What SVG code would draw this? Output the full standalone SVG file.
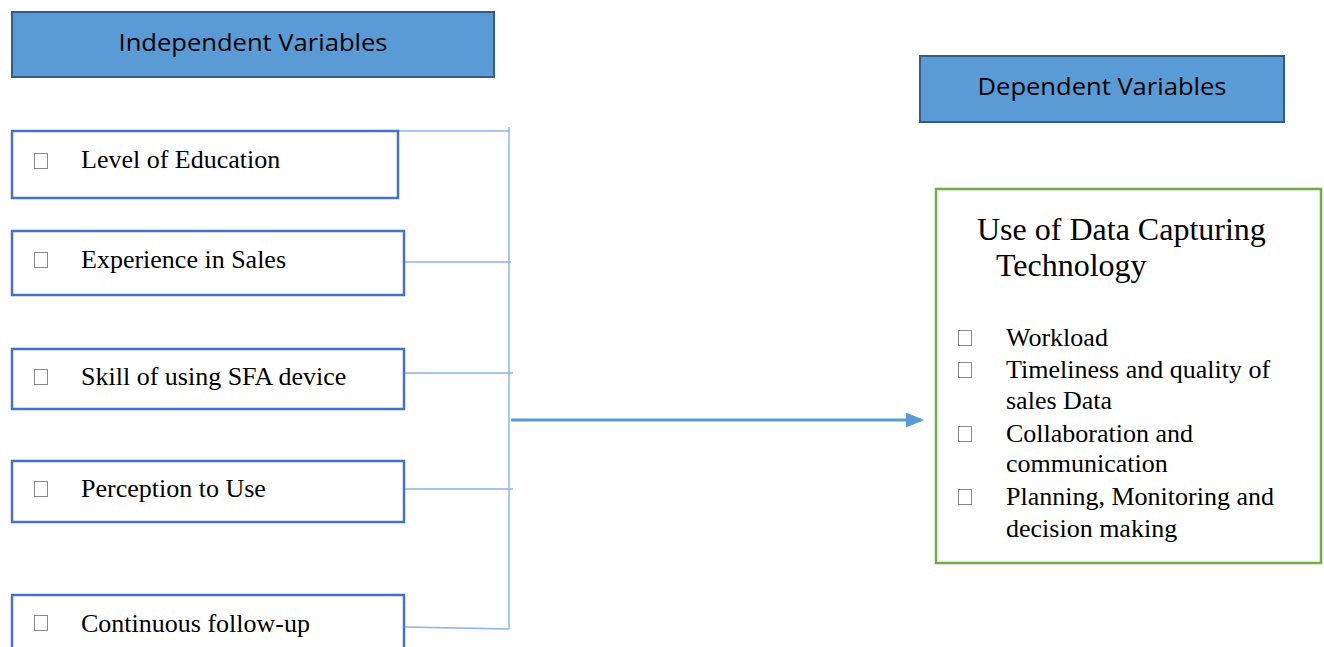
<svg xmlns="http://www.w3.org/2000/svg" width="1324" height="647" viewBox="0 0 1324 647">
<style>
.hdr{fill:#5B9BD5;stroke:#2F5C8A;stroke-width:2}
.hdrt{font-family:"Open Sans","Noto Sans","Liberation Sans",sans-serif;font-size:23px;fill:#000;text-anchor:middle}
.ibox{fill:#fff;stroke:#4472C4;stroke-width:2.5}
.t{font-family:"Liberation Serif","Times New Roman",serif;font-size:26px;fill:#000}
.tt{font-family:"Liberation Serif","Times New Roman",serif;font-size:32px;fill:#000}
.sq{fill:none;stroke:#8a8a8a;stroke-width:1}
.con{fill:none;stroke:#8DB6E2;stroke-width:1.5}
.arr{fill:none;stroke:#5B9BD5;stroke-width:3}
.dbox{fill:#fff;stroke:#70AD47;stroke-width:2.5}
</style>
<defs>
<marker id="ah" markerWidth="6" markerHeight="5" refX="5" refY="2.5" orient="auto" markerUnits="strokeWidth">
<path d="M0,0 L6,2.5 L0,5 Z" fill="#5B9BD5"/>
</marker>
</defs>
<rect width="1324" height="647" fill="#fff"/>

<g id="independent-header">
<rect class="hdr" x="12" y="12" width="482" height="65"/>
<text class="hdrt" x="253" y="51" textLength="269" lengthAdjust="spacingAndGlyphs">Independent Variables</text>
</g>

<g id="dependent-header">
<rect class="hdr" x="920" y="56" width="364" height="66"/>
<text class="hdrt" x="1102" y="95" textLength="249" lengthAdjust="spacingAndGlyphs">Dependent Variables</text>
</g>

<g id="connectors">
<polyline class="con" points="398,131 509,131"/>
<line class="con" x1="509" y1="127" x2="509" y2="629"/>
<line class="con" x1="399" y1="262" x2="511" y2="262"/>
<line class="con" x1="401" y1="373" x2="513" y2="373"/>
<line class="con" x1="401" y1="489" x2="513" y2="489"/>
<line class="con" x1="405" y1="627" x2="509" y2="629"/>
<line class="arr" x1="511" y1="420" x2="921" y2="420" marker-end="url(#ah)"/>
</g>

<g id="level-of-education">
<rect class="ibox" x="12" y="131" width="386" height="67"/>
<rect class="sq" x="34.5" y="153.5" width="13" height="15"/>
<text class="t" x="81" y="168">Level of Education</text>
</g>

<g id="experience-in-sales">
<rect class="ibox" x="12" y="231" width="392" height="64"/>
<rect class="sq" x="34.5" y="252.5" width="13" height="15"/>
<text class="t" x="81" y="268">Experience in Sales</text>
</g>

<g id="skill-sfa">
<rect class="ibox" x="12" y="349" width="392" height="60"/>
<rect class="sq" x="34.5" y="369.5" width="13" height="15"/>
<text class="t" x="81" y="385">Skill of using SFA device</text>
</g>

<g id="perception-to-use">
<rect class="ibox" x="12" y="461" width="392" height="61"/>
<rect class="sq" x="34.5" y="481.5" width="13" height="15"/>
<text class="t" x="81" y="497">Perception to Use</text>
</g>

<g id="continuous-follow-up">
<rect class="ibox" x="12" y="595" width="392" height="70"/>
<rect class="sq" x="34.5" y="615.5" width="13" height="15"/>
<text class="t" x="81" y="632">Continuous follow-up</text>
</g>

<g id="use-of-data-capturing">
<rect class="dbox" x="936" y="189" width="385" height="374"/>
<text class="tt" x="977" y="240">Use of Data Capturing</text>
<text class="tt" x="996" y="276">Technology</text>
<rect class="sq" x="958.5" y="330.5" width="13" height="15"/>
<text class="t" x="1006" y="346">Workload</text>
<rect class="sq" x="958.5" y="362.5" width="13" height="15"/>
<text class="t" x="1006" y="378">Timeliness and quality of</text>
<text class="t" x="1006" y="409">sales Data</text>
<rect class="sq" x="958.5" y="426.5" width="13" height="15"/>
<text class="t" x="1006" y="442">Collaboration and</text>
<text class="t" x="1006" y="472">communication</text>
<rect class="sq" x="958.5" y="489.5" width="13" height="15"/>
<text class="t" x="1006" y="505">Planning, Monitoring and</text>
<text class="t" x="1006" y="537">decision making</text>
</g>
</svg>
